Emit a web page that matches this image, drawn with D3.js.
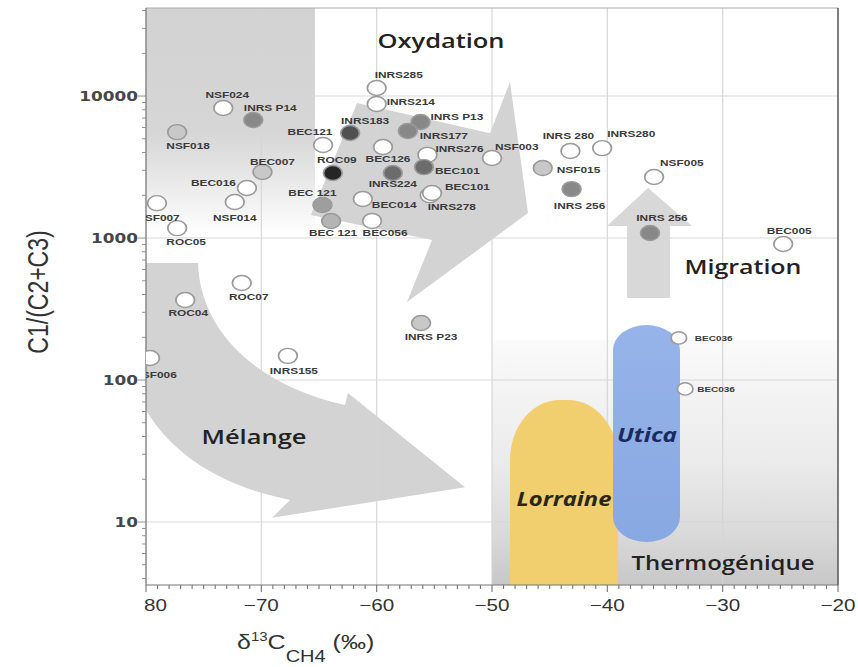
<!DOCTYPE html>
<html>
<head>
<meta charset="utf-8">
<script src="https://cdn.jsdelivr.net/npm/d3@7"></script>
<style>
  html, body { margin: 0; padding: 0; background: #fff; }
  svg { display: block; }
</style>
</head>
<body>
<svg id="chart" width="858" height="667"></svg>
<script>
// ---- Samples: identifier, δ13C of methane (‰), C1/(C2+C3) ratio, marker tone ----
const sampleIds = [
  "NSF024", "INRS P14", "NSF018", "BEC121", "BEC007", "ROC09", "BEC016", "NSF014",
  "BEC 121", "NSF007", "ROC05", "NSF006", "ROC07", "ROC04", "INRS155", "INRS P23",
  "INRS285", "INRS214", "INRS183", "INRS P13", "INRS177", "BEC126", "INRS276", "NSF003",
  "BEC101", "INRS224", "INRS278", "BEC101", "BEC014", "BEC 121", "BEC056",
  "INRS 280", "INRS280", "NSF015", "INRS 256", "NSF005", "INRS 256", "BEC005",
  "BEC036", "BEC036"
];
const d13C = [
  -73.3, -70.7, -77.3, -64.65, -69.9, -63.8, -71.25, -72.3,
  -64.7, -79.05, -77.3, -79.65, -71.7, -76.6, -67.7, -56.15,
  -60.0, -60.0, -62.3, -56.2, -57.3, -59.45, -55.6, -50.0,
  -55.9, -58.6, -55.4, -55.2, -61.2, -63.95, -60.4,
  -43.2, -40.45, -45.6, -43.1, -35.95, -36.3, -24.75,
  -33.8, -33.25
];
const c1Ratio = [
  8230, 6780, 5570, 4520, 2920, 2870, 2250, 1795,
  1710, 1760, 1175, 143, 482, 366, 148, 252,
  11400, 8790, 5490, 6560, 5680, 4380, 3850, 3660,
  3160, 2870, 2000, 2075, 1883, 1318, 1318,
  4100, 4300, 3110, 2210, 2690, 1084, 908,
  198, 86.5
];
const tone = [
  "open", "mid", "light", "open", "light", "black", "open", "open",
  "grey", "open", "open", "open", "open", "open", "open", "light",
  "open", "open", "darker", "mid", "mid", "open", "open", "open",
  "dark", "dark", "open", "open", "open", "soft", "open",
  "open", "open", "light", "mid", "open", "mid", "open",
  "open", "open"
];

// ---- Axes ----
const xTickValues = [-80, -70, -60, -50, -40, -30, -20];
const xTickLabels = ["80", "−70", "−60", "−50", "−40", "−30", "−20"];
const yTickValues = [10, 100, 1000, 10000];
const yTickLabels = ["10", "100", "1000", "10000"];
const xDomain = [-80, -20];
const yDomain = [3.6, 41700];

// ---- Interpretive zones and arrows (data coordinates) ----
const leftBand = { x0: -80, x1: -65.35, yFade: 1050 };
const oxidationArrow = [
  [-61.70, 8930], [-50.17, 5480], [-48.44, 12550],
  [-46.88, 1500], [-57.37, 354], [-55.20, 968], [-65.70, 1452]
];
const mixingArrow = {
  start: [-80, 667], inner0: [-75.49, 667],
  innerC1: [-75.32, 225], innerC2: [-70.55, 92.3], inner1: [-62.75, 66.7],
  barbUp: [-62.49, 81], tip: [-52.34, 17.6], barbDown: [-69.07, 10.7],
  outer0: [-67.51, 14.3], outerC1: [-74.02, 18.2], outerC2: [-77.92, 32.1], outer1: [-80, 61.5]
};
const migrationArrow = [
  [-38.29, 378], [-38.29, 1215], [-40.03, 1215], [-36.47, 2250],
  [-32.66, 1215], [-34.57, 1215], [-34.57, 378]
];
const thermoZone = { x0: -50, x1: -20, yTop: 191 };
const lorraineZone = { x0: -48.44, x1: -39.07, yTop: 72.3 };
const uticaZone = { x0: -39.51, x1: -33.70, yTop: 244, yBottom: 7.23 };

const zoneTitles = [
  { text: "Oxydation", at: [-54.42, 21770], len: 127 },
  { text: "Migration", at: [-28.24, 557], len: 117 },
  { text: "Mélange", at: [-70.64, 35.4], len: 105 },
  { text: "Thermogénique", at: [-29.97, 4.59], len: 183 }
];
const basinTitles = [
  { text: "Lorraine", at: [-43.76, 13.0], len: 95, color: "#2b2714" },
  { text: "Utica", at: [-36.56, 36.6], len: 60, color: "#1b2a5c" }
];

// ---- Layout ----
const SX = 1.25;                       // horizontal stretch of the whole figure
const plot = { left: 146, right: 838, top: 8, bottom: 585 };
const toneFill = {
  open: "#ffffff", light: "#c8c8c8", soft: "#b4b4b4", grey: "#9e9e9e",
  mid: "#888888", dark: "#6c6c6c", darker: "#505050", black: "#262626"
};
// label offset from marker centre (page px) and anchor
const labelOffsets = [
  [4, -13, "middle"], [17, -12, "middle"], [11, 13, "middle"], [-13, -13, "middle"],
  [10, -10, "middle"], [4, -13, "middle"], [-11, -5, "end"], [0, 16, "middle"],
  [-10, -12, "middle"], [1, 14, "middle"], [9, 14, "middle"], [5, 17, "middle"],
  [7, 14, "middle"], [3, 13, "middle"], [6, 15, "middle"], [10, 14, "middle"],
  [-2, -13, "start"], [10, -2, "start"], [15, -12, "middle"], [10, -5, "start"],
  [12, 5, "start"], [5, 12, "middle"], [8, -6, "start"], [3, -11, "start"],
  [11, 4, "start"], [0, 11, "middle"], [-2, 11, "start"], [13, -6, "start"],
  [9, 6, "start"], [2, 12, "middle"], [13, 12, "middle"],
  [-2, -15, "middle"], [5, -14, "start"], [14, 2, "start"], [8, 16, "middle"],
  [6, -14, "start"], [12, -15, "middle"], [6, -13, "middle"],
  [16, 0, "start"], [12, 0, "start"]
];
const smallMarkers = new Set([38, 39]);

const svg = d3.select("#chart");
const defs = svg.append("defs");

const g = svg.append("g").attr("transform", `scale(${SX},1)`);
const x = d3.scaleLinear().domain(xDomain).range([plot.left / SX, plot.right / SX]);
const y = d3.scaleLog().domain(yDomain).range([plot.bottom, plot.top]);
const P = ([a, b]) => [x(a), y(b)];

defs.append("clipPath").attr("id", "plotClip")
  .append("rect")
  .attr("x", x(xDomain[0])).attr("y", y(yDomain[1]))
  .attr("width", x(xDomain[1]) - x(xDomain[0]))
  .attr("height", y(yDomain[0]) - y(yDomain[1]));

// gradients
const gBand = defs.append("linearGradient").attr("id", "bandGrad")
  .attr("x1", 0).attr("y1", 0).attr("x2", 0).attr("y2", 1);
gBand.append("stop").attr("offset", 0).attr("stop-color", "#d2d2d2");
gBand.append("stop").attr("offset", 0.55).attr("stop-color", "#d6d6d6");
gBand.append("stop").attr("offset", 0.8).attr("stop-color", "#ececec");
gBand.append("stop").attr("offset", 1).attr("stop-color", "#ffffff");

const gThermo = defs.append("linearGradient").attr("id", "thermoGrad")
  .attr("x1", 0).attr("y1", 0).attr("x2", 0).attr("y2", 1);
gThermo.append("stop").attr("offset", 0).attr("stop-color", "#fafafa");
gThermo.append("stop").attr("offset", 0.5).attr("stop-color", "#ebebeb");
gThermo.append("stop").attr("offset", 0.8).attr("stop-color", "#d9d9d9");
gThermo.append("stop").attr("offset", 1).attr("stop-color", "#c7c7c7");

const gUtica = defs.append("linearGradient").attr("id", "uticaGrad")
  .attr("x1", 0).attr("y1", 0).attr("x2", 0).attr("y2", 1);
gUtica.append("stop").attr("offset", 0).attr("stop-color", "#96b4ea");
gUtica.append("stop").attr("offset", 1).attr("stop-color", "#88a8e2");

const bg = g.append("g").attr("clip-path", "url(#plotClip)");

// thermogenic field
bg.append("rect")
  .attr("x", x(thermoZone.x0)).attr("y", y(thermoZone.yTop))
  .attr("width", x(thermoZone.x1) - x(thermoZone.x0))
  .attr("height", y(yDomain[0]) - y(thermoZone.yTop))
  .attr("fill", "url(#thermoGrad)");

// upper-left band fading downward
bg.append("rect")
  .attr("x", x(leftBand.x0)).attr("y", y(yDomain[1]))
  .attr("width", x(leftBand.x1) - x(leftBand.x0))
  .attr("height", y(leftBand.yFade) - y(yDomain[1]))
  .attr("fill", "url(#bandGrad)");

const arrowFill = "#d3d3d3";
// oxidation arrow
bg.append("path")
  .attr("d", d3.line()(oxidationArrow.map(P)) + "Z")
  .attr("fill", arrowFill);

// mixing arrow (curved)
{
  const m = mixingArrow, p = d3.path();
  p.moveTo(...P(m.start));
  p.lineTo(...P(m.inner0));
  p.bezierCurveTo(...P(m.innerC1), ...P(m.innerC2), ...P(m.inner1));
  p.lineTo(...P(m.barbUp));
  p.lineTo(...P(m.tip));
  p.lineTo(...P(m.barbDown));
  p.lineTo(...P(m.outer0));
  p.bezierCurveTo(...P(m.outerC1), ...P(m.outerC2), ...P(m.outer1));
  p.closePath();
  bg.append("path").attr("d", p.toString()).attr("fill", arrowFill);
}

// migration arrow
bg.append("path")
  .attr("d", d3.line()(migrationArrow.map(P)) + "Z")
  .attr("fill", "#d8d8d8");

// grid
const grid = g.append("g").attr("stroke", "#d6d6d6").attr("stroke-width", 1).attr("opacity", 0.9);
xTickValues.slice(1, -1).forEach(v => {
  grid.append("line").attr("x1", x(v)).attr("x2", x(v))
    .attr("y1", y(yDomain[1])).attr("y2", y(yDomain[0]));
});
yTickValues.forEach(v => {
  grid.append("line").attr("x1", x(xDomain[0])).attr("x2", x(xDomain[1]))
    .attr("y1", y(v)).attr("y2", y(v));
});

// Lorraine and Utica fields, above the grid
const basins = g.append("g").attr("clip-path", "url(#plotClip)");
{
  const L = lorraineZone;
  const x0 = x(L.x0), x1 = x(L.x1), top = y(L.yTop), bot = y(yDomain[0]);
  const rx = (x1 - x0) * 0.46, ry = 60;
  const d = `M${x0},${bot} L${x0},${top + ry} A${rx},${ry} 0 0 1 ${x0 + rx},${top} ` +
            `L${x1 - rx},${top} A${rx},${ry} 0 0 1 ${x1},${top + ry} L${x1},${bot} Z`;
  basins.append("path").attr("d", d).attr("fill", "#f2cf6e");

  const U = uticaZone;
  const ux0 = x(U.x0), ux1 = x(U.x1);
  basins.append("rect")
    .attr("x", ux0).attr("y", y(U.yTop))
    .attr("width", ux1 - ux0).attr("height", y(U.yBottom) - y(U.yTop))
    .attr("rx", (ux1 - ux0) / 2).attr("ry", 25)
    .attr("fill", "url(#uticaGrad)");
}

// axes lines and frame
const axisG = g.append("g");
axisG.append("line").attr("x1", x(xDomain[0])).attr("x2", x(xDomain[1]))
  .attr("y1", y(yDomain[1])).attr("y2", y(yDomain[1])).attr("stroke", "#aaa").attr("stroke-width", 1);
axisG.append("line").attr("x1", x(xDomain[1])).attr("x2", x(xDomain[1]))
  .attr("y1", y(yDomain[1])).attr("y2", y(yDomain[0])).attr("stroke", "#555").attr("stroke-width", 1.2);
axisG.append("line").attr("x1", x(xDomain[0])).attr("x2", x(xDomain[1]))
  .attr("y1", y(yDomain[0])).attr("y2", y(yDomain[0])).attr("stroke", "#777").attr("stroke-width", 1.2);
axisG.append("line").attr("x1", x(xDomain[0])).attr("x2", x(xDomain[0]))
  .attr("y1", y(yDomain[1])).attr("y2", y(yDomain[0])).attr("stroke", "#888").attr("stroke-width", 1.2);

// x ticks
d3.range(-80, -19).forEach(v => {
  const major = v % 10 === 0;
  axisG.append("line").attr("x1", x(v)).attr("x2", x(v))
    .attr("y1", y(yDomain[0])).attr("y2", y(yDomain[0]) + (major ? 7 : 4))
    .attr("stroke", "#777").attr("stroke-width", 0.9);
});
xTickValues.forEach((v, i) => {
  axisG.append("text")
    .attr("x", x(v) - (i === 0 ? 2 / SX : 0)).attr("y", 611)
    .attr("text-anchor", i === 0 ? "start" : "middle")
    .attr("font-family", "Liberation Sans, Arial, sans-serif")
    .attr("font-size", 16.5).attr("fill", "#333")
    .text(xTickLabels[i]);
});

// y ticks (log minor ticks)
const minorY = [];
for (let dec = 1; dec <= 10000; dec *= 10)
  for (let k = 1; k <= 9; k++) {
    const v = k * dec;
    if (v >= yDomain[0] && v <= yDomain[1]) minorY.push(v);
  }
minorY.forEach(v => {
  const major = yTickValues.includes(v);
  axisG.append("line").attr("x1", x(xDomain[0])).attr("x2", x(xDomain[0]) - (major ? 8 : 4) / SX)
    .attr("y1", y(v)).attr("y2", y(v)).attr("stroke", "#888").attr("stroke-width", 0.9);
});
yTickValues.forEach((v, i) => {
  axisG.append("text")
    .attr("x", 138 / SX).attr("y", y(v) + 5)
    .attr("text-anchor", "end")
    .attr("font-family", "DejaVu Sans, Verdana, sans-serif")
    .attr("font-weight", "bold")
    .attr("font-size", 13.5).attr("fill", "#474747")
    .text(yTickLabels[i]);
});

// axis titles
g.append("text")
  .attr("transform", `translate(${48 / SX},${292}) rotate(-90)`)
  .attr("text-anchor", "middle")
  .attr("font-family", "Liberation Sans, Arial, sans-serif")
  .attr("font-size", 23).attr("fill", "#333")
  .text("C1/(C2+C3)");

{
  const t = g.append("text")
    .attr("x", 237 / SX).attr("y", 649)
    .attr("font-family", "Liberation Sans, Arial, sans-serif")
    .attr("font-size", 20).attr("fill", "#333");
  t.append("tspan").text("δ");
  t.append("tspan").attr("dy", -8).attr("font-size", 12).text("13");
  t.append("tspan").attr("dy", 8).text("C");
  t.append("tspan").attr("dy", 13).attr("font-size", 16).text("CH4");
  t.append("tspan").attr("dy", -13).text(" (‰)");
}

// zone captions
const fg = g.append("g").attr("clip-path", "url(#plotClip)");
zoneTitles.forEach(z => {
  const [px0, py0] = P(z.at);
  fg.append("text")
    .attr("x", px0).attr("y", py0)
    .attr("text-anchor", "middle")
    .attr("font-family", "Open Sans, sans-serif")
    .attr("font-weight", 600)
    .attr("font-size", 20).attr("fill", "#222")
    .attr("textLength", z.len / SX).attr("lengthAdjust", "spacingAndGlyphs")
    .text(z.text);
});
basinTitles.forEach(z => {
  const [px0, py0] = P(z.at);
  fg.append("text")
    .attr("x", px0).attr("y", py0)
    .attr("text-anchor", "middle")
    .attr("font-family", "Open Sans, sans-serif")
    .attr("font-weight", 700).attr("font-style", "italic")
    .attr("font-size", 19).attr("fill", z.color)
    .attr("textLength", z.len / SX).attr("lengthAdjust", "spacingAndGlyphs")
    .text(z.text);
});

// sample markers and labels
const pts = fg.append("g");
sampleIds.forEach((id, i) => {
  const cx = x(d13C[i]), cy = y(c1Ratio[i]);
  const small = smallMarkers.has(i);
  pts.append("circle")
    .attr("cx", cx).attr("cy", cy).attr("r", small ? 6.2 : 7.5)
    .attr("fill", toneFill[tone[i]])
    .attr("stroke", "#9a9a9a").attr("stroke-width", 1.4);
});
sampleIds.forEach((id, i) => {
  const cx = x(d13C[i]), cy = y(c1Ratio[i]);
  const small = smallMarkers.has(i);
  const [dx, dy, anchor] = labelOffsets[i];
  pts.append("text")
    .attr("x", cx + dx / SX).attr("y", cy + dy + (small ? 3 : 3.4))
    .attr("text-anchor", anchor)
    .attr("font-family", "Liberation Sans, Arial, sans-serif")
    .attr("font-weight", "bold")
    .attr("font-size", small ? 8 : 9.5).attr("fill", "#3a3a3a")
    .text(id);
});
</script>
</body>
</html>
